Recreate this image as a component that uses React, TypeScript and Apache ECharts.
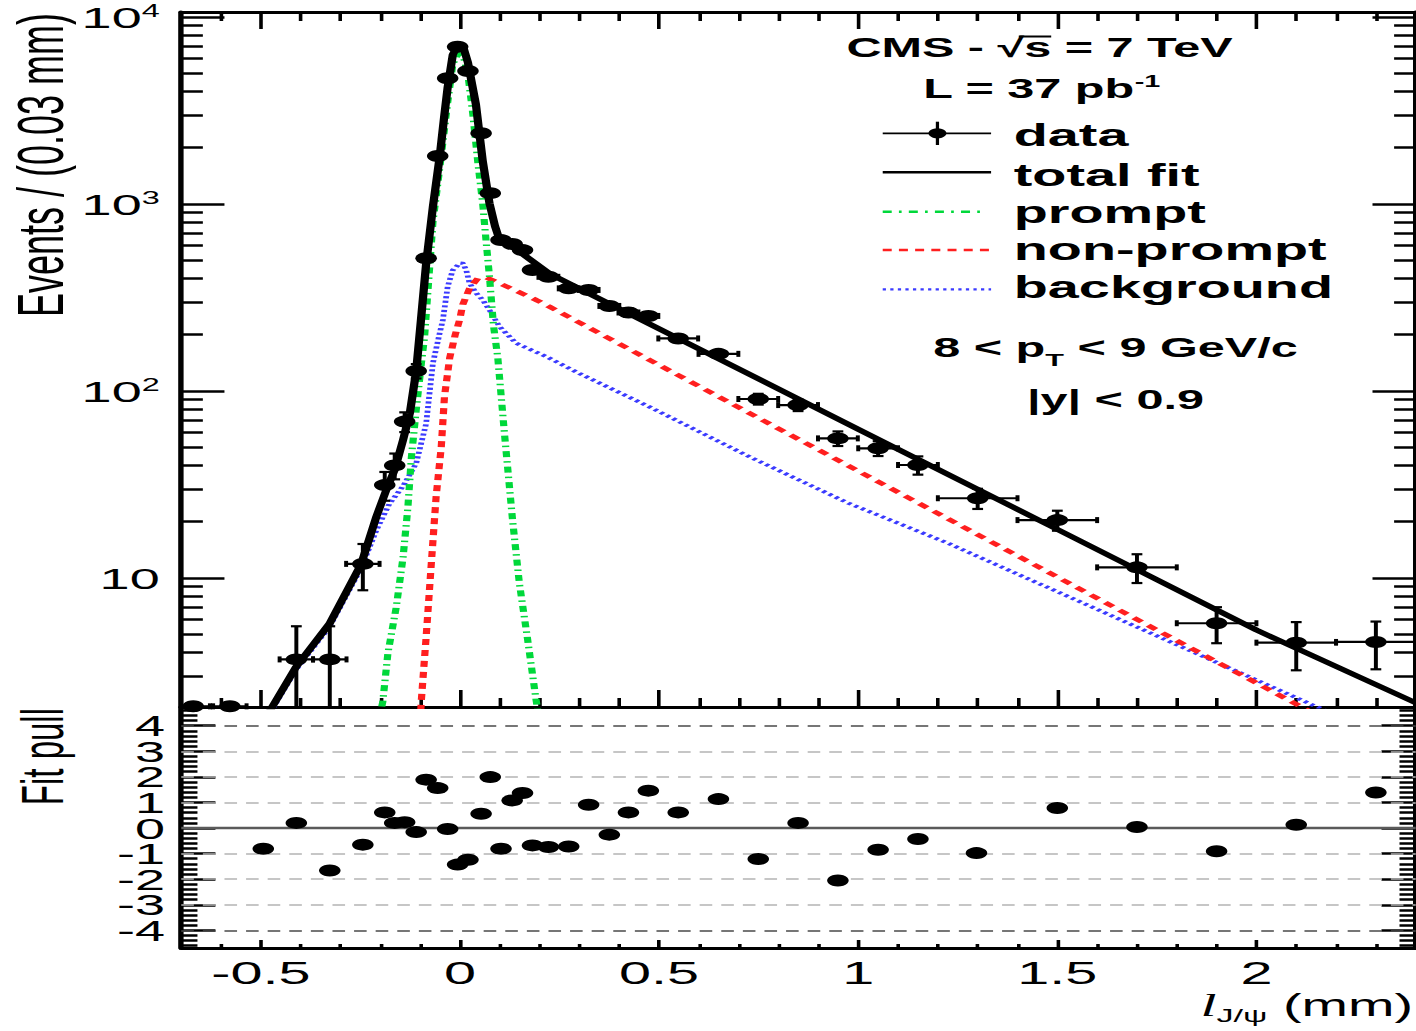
import React, { useEffect, useRef } from "react";
import * as echarts from "echarts";

// The figure is laid out in a narrow frame and widened horizontally.
const STRETCH_X = 1.8;
const FRAME_W = 788;
const FRAME_H = 1031;

const SANS = '"Liberation Sans", Arial, Helvetica, sans-serif';
const SERIF = '"Liberation Serif", "Times New Roman", serif';

const GREEN = "#00d83a";
const RED = "#ff1f1f";
const BLUE = "#3b3bff";

// ---- binned data: bin centre (mm), events / (0.03 mm), stat. error, half bin width ----
const binCenters = [
  -0.67, -0.578, -0.411, -0.327, -0.244,
  -0.189, -0.164, -0.139, -0.11, -0.085, -0.056, -0.031, -0.006, 0.02, 0.053, 0.076, 0.103, 0.131, 0.157, 0.182,
  0.222, 0.273, 0.323, 0.375, 0.423, 0.473,
  0.548, 0.649, 0.749, 0.849, 0.949, 1.05, 1.15,
  1.3, 1.5, 1.7, 1.9, 2.1, 2.3,
];
const eventCounts = [
  2.06, 2.06, 3.67, 3.67, 11.9,
  31.4, 40, 68.6, 128, 513, 1807, 4700, 6935, 5140, 2390, 1143, 641, 611, 567, 444,
  408, 354, 347, 285, 263, 252,
  191, 158, 90.6, 84.1, 55.8, 49.4, 40.2,
  26.7, 20.4, 11.4, 5.73, 4.51, 4.55,
];
const eventErrors = [
  0, 0, 1.85, 1.85, 3.3,
  5.5, 6.3, 8.3, 11.3, 22, 40, 65, 80, 70, 47, 33, 25, 24, 23, 20,
  16, 15, 15, 13, 13, 12,
  8, 7, 6, 6, 5, 4.5, 4.5,
  3.3, 2.5, 2, 1.25, 1.3, 1.3,
];
const binHalfWidths = [
  0.042, 0.042, 0.042, 0.042, 0.042,
  0.0125, 0.0125, 0.0125, 0.0125, 0.0125, 0.0125, 0.0125, 0.0125, 0.0125, 0.0125, 0.0125, 0.0125, 0.0125, 0.0125, 0.0125,
  0.025, 0.025, 0.025, 0.025, 0.025, 0.025,
  0.05, 0.05, 0.05, 0.05, 0.05, 0.05, 0.05,
  0.1, 0.1, 0.1, 0.1, 0.1, 0.1,
];

// ---- fit pulls ----
const pullCenters = [
  -0.494, -0.411, -0.327, -0.244, -0.189, -0.164, -0.139, -0.11, -0.085, -0.056, -0.031, -0.006, 0.02,
  0.053, 0.076, 0.103, 0.131, 0.157, 0.182, 0.222, 0.273, 0.323, 0.375, 0.423, 0.473, 0.548, 0.649,
  0.749, 0.849, 0.949, 1.05, 1.15, 1.297, 1.5, 1.7, 1.9, 2.1, 2.3,
];
const pullValues = [
  -0.81, 0.2, -1.66, -0.65, 0.61, 0.2, 0.23, -0.16, 1.89, 1.56, -0.04, -1.43, -1.24,
  0.56, 1.99, -0.81, 1.08, 1.37, -0.68, -0.74, -0.72, 0.91, -0.26, 0.61, 1.46, 0.61, 1.13,
  -1.21, 0.2, -2.05, -0.85, -0.43, -0.98, 0.78, 0.04, -0.91, 0.13, 1.39,
];

// ---- fit curves: [l (mm), events / (0.03 mm)] ----
const totalFit = [
  [-0.5, 1.6], [-0.473, 2.02], [-0.411, 3.36], [-0.327, 5.73], [-0.248, 11.9], [-0.21, 21.3],
  [-0.185, 29.6], [-0.164, 37.9], [-0.143, 54.7], [-0.126, 76], [-0.11, 128], [-0.098, 240],
  [-0.085, 480], [-0.068, 968], [-0.051, 1790], [-0.04, 2900], [-0.031, 4200], [-0.018, 6300],
  [-0.006, 7050], [0.007, 7050], [0.02, 5700], [0.04, 3400], [0.057, 1700], [0.074, 1010],
  [0.088, 760], [0.097, 665], [0.112, 628], [0.15, 555], [0.224, 425], [1.0, 62.5],
  [1.5, 18.2], [2.0, 5.27], [2.4, 2.15],
];
const promptFit = [
  [-0.205, 1.7], [-0.194, 2.17], [-0.181, 3.97], [-0.16, 7.0], [-0.143, 12.9], [-0.131, 23.7],
  [-0.122, 44.4], [-0.11, 79], [-0.097, 141], [-0.089, 195], [-0.068, 800], [-0.051, 1550],
  [-0.031, 3480], [-0.018, 5600], [-0.005, 6350], [0.008, 6200], [0.0195, 5000], [0.032, 3055],
  [0.045, 1652], [0.057, 1008], [0.066, 617], [0.074, 409], [0.084, 225], [0.095, 150],
  [0.112, 58], [0.132, 20.4], [0.149, 9.4], [0.17, 4.66], [0.191, 2.23], [0.2, 1.7],
];
const nonPromptFit = [
  [-0.1, 1.7], [-0.097, 2.23], [-0.085, 4.85], [-0.072, 12], [-0.06, 27.2], [-0.047, 50.4],
  [-0.039, 93.3], [-0.026, 150], [-0.012, 200], [-0.001, 240], [0.007, 290], [0.024, 354],
  [0.045, 401], [0.065, 405], [0.091, 384], [0.191, 307], [0.224, 283], [2.112, 2.05], [2.2, 1.63],
];
const backgroundFit = [
  [-0.5, 1.55], [-0.473, 1.96], [-0.411, 3.25], [-0.327, 5.5], [-0.248, 11.3], [-0.21, 18],
  [-0.177, 25], [-0.143, 31], [-0.11, 41], [-0.085, 67], [-0.068, 141], [-0.051, 204],
  [-0.043, 240], [-0.031, 361], [-0.018, 444], [0.0, 483], [0.007, 482], [0.0155, 444],
  [0.024, 377], [0.041, 333], [0.057, 307], [0.074, 271], [0.099, 221], [0.141, 180],
  [0.216, 153], [0.3, 124], [0.475, 82.4], [0.726, 44.6], [0.976, 25.1], [1.227, 15.3],
  [2.142, 2.09], [2.2, 1.85],
];

// ---- axis ranges and ticks ----
const X_MIN = -0.7;
const X_MAX = 2.4;
const LOG_MIN = 0.3102;
const LOG_MAX = 4.0267;
const PULL_MIN = -4.69;
const PULL_MAX = 4.73;
const xMajorTicks = [-0.5, 0, 0.5, 1, 1.5, 2];
const xMinorTicks = [
  -0.6, -0.4, -0.3, -0.2, -0.1, 0.1, 0.2, 0.3, 0.4, 0.6, 0.7, 0.8, 0.9,
  1.1, 1.2, 1.3, 1.4, 1.6, 1.7, 1.8, 1.9, 2.1, 2.2, 2.3,
];
const decadeTicks = [1, 2, 3, 4];
const pullMajorTicks = [-4, -3, -2, -1, 0, 1, 2, 3, 4];
// pull labels are split over two stacked axes so that every one of them is drawn
const pullEvenLabels = [-4, -2, 0, 2, 4];
const pullOddLabels = [-3, -1, 1, 3];

const lg = (v: number) => Math.log10(v);
const toLog = (pts: number[][]) => pts.map(([x, v]) => [x, lg(v)]);

function xAxisDef(gridIndex: number, position: string, ticks: number[], len: number, showLine: boolean, labels = false) {
  return {
    type: "value",
    gridIndex,
    position,
    min: X_MIN,
    max: X_MAX,
    axisLine: { show: showLine, onZero: false, lineStyle: { color: "#000", width: 3 } },
    axisTick: { show: true, inside: true, length: len, customValues: ticks, lineStyle: { color: "#000", width: 2 } },
    axisLabel: labels
      ? {
          show: true,
          customValues: xMajorTicks,
          margin: 9,
          hideOverlap: false,
          showMinLabel: true,
          showMaxLabel: true,
          color: "#000",
          fontFamily: SANS,
          fontSize: 32,
        }
      : { show: false },
    splitLine: { show: false },
  };
}

function yAxisDef(
  gridIndex: number,
  position: string,
  min: number,
  max: number,
  ticks: number[],
  len: number,
  showLine: boolean,
  label: any = null
) {
  return {
    type: "value",
    gridIndex,
    position,
    min,
    max,
    axisLine: { show: showLine, onZero: false, lineStyle: { color: "#000", width: 3 } },
    axisTick: { show: true, inside: true, length: len, customValues: ticks, lineStyle: { color: "#000", width: 2.5 } },
    axisLabel: label ? label : { show: false },
    splitLine: { show: false },
  };
}

function pullLabel(values: number[]) {
  return {
    show: true,
    customValues: values,
    margin: 9,
    hideOverlap: false,
    showMinLabel: true,
    showMaxLabel: true,
    color: "#000",
    fontFamily: SANS,
    fontSize: 30,
    lineHeight: 24,
  };
}

function buildOption() {
  const logMinor: number[] = [];
  for (const d of [0, 1, 2, 3]) {
    for (const k of [2, 3, 4, 5, 6, 7, 8, 9]) {
      const t = lg(k * Math.pow(10, d));
      if (t > LOG_MIN && t < LOG_MAX) logMinor.push(t);
    }
  }
  const pullMinor: number[] = [];
  for (let i = -23; i <= 23; i++) if (i % 5 !== 0) pullMinor.push(i / 5);

  const errData = binCenters.map((x, i) => {
    const y = eventCounts[i];
    const e = eventErrors[i];
    const h = binHalfWidths[i];
    return [x, lg(y), lg(y + e), lg(Math.max(y - e, 1e-3)), x - h, x + h];
  });
  const markerData = binCenters.map((x, i) => [x, lg(eventCounts[i])]);
  const pullData = pullCenters.map((x, i) => [x, pullValues[i]]);

  const decadeLabel = {
    show: true,
    customValues: decadeTicks,
    margin: 12,
    hideOverlap: false,
    showMinLabel: true,
    showMaxLabel: true,
    formatter: (v: number) => {
      const e = Math.round(v);
      return e === 1 ? "{b|10}" : `{b|10}{s|${e}}`;
    },
    rich: {
      b: { fontSize: 30, lineHeight: 30, fontFamily: SANS, color: "#000" },
      s: { fontSize: 18, lineHeight: 18, verticalAlign: "top", fontFamily: SANS, color: "#000" },
    },
  };

  const legendRows = [
    { label: "data", ty: 135.3 },
    { label: "total fit", ty: 175 },
    { label: "prompt", ty: 212.5 },
    { label: "non-prompt", ty: 249.2 },
    { label: "background", ty: 287.5 },
  ];
  const LX1 = 490.4;
  const LX2 = 550.6;
  const legendGraphics: any[] = [
    { type: "line", shape: { x1: LX1, y1: 133.3, x2: LX2, y2: 133.3 }, style: { stroke: "#000", lineWidth: 1.8 } },
    { type: "line", shape: { x1: 520.8, y1: 121.7, x2: 520.8, y2: 145 }, style: { stroke: "#000", lineWidth: 1.8 } },
    { type: "circle", shape: { cx: 520.8, cy: 133.3, r: 5 }, style: { fill: "#000" } },
    { type: "line", shape: { x1: LX1, y1: 172.3, x2: LX2, y2: 172.3 }, style: { stroke: "#000", lineWidth: 2.6 } },
    { type: "line", shape: { x1: LX1, y1: 211.7, x2: 545, y2: 211.7 }, style: { stroke: GREEN, lineWidth: 2.6, lineDash: [5, 4, 1.5, 4] } },
    { type: "line", shape: { x1: LX1, y1: 250, x2: LX2, y2: 250 }, style: { stroke: RED, lineWidth: 2.6, lineDash: [5, 4] } },
    { type: "line", shape: { x1: LX1, y1: 289.3, x2: LX2, y2: 289.3 }, style: { stroke: BLUE, lineWidth: 2.2, lineDash: [1.8, 2.4] } },
    ...legendRows.map((r) => ({
      type: "text",
      x: 563.2,
      y: r.ty,
      style: {
        text: r.label,
        fill: "#000",
        fontFamily: SANS,
        fontWeight: "bold",
        fontSize: 31,
        align: "left",
        verticalAlign: "middle",
      },
    })),
  ];

  const textGraphics: any[] = [
    {
      type: "text",
      x: 577.5,
      y: 47.5,
      style: { text: "CMS - √s = 7 TeV", fill: "#000", fontFamily: SANS, fontWeight: "bold", fontSize: 27, align: "center", verticalAlign: "middle" },
    },
    // bar over the "s" of √s
    { type: "line", shape: { x1: 566, y1: 36.5, x2: 584, y2: 36.5 }, style: { stroke: "#000", lineWidth: 2 } },
    {
      type: "text",
      x: 578.6,
      y: 88.3,
      style: {
        text: "{t|L = 37 pb}{s|-1}",
        align: "center",
        verticalAlign: "middle",
        rich: {
          t: { fontSize: 27, lineHeight: 30, fontWeight: "bold", fontFamily: SANS, fill: "#000", color: "#000" },
          s: { fontSize: 16, lineHeight: 16, verticalAlign: "top", fontWeight: "bold", fontFamily: SANS, fill: "#000", color: "#000" },
        },
      },
    },
    {
      type: "text",
      x: 619.7,
      y: 347.5,
      style: {
        text: "{t|8 < p}{s|T}{t| < 9 GeV/c}",
        align: "center",
        verticalAlign: "middle",
        rich: {
          t: { fontSize: 27, lineHeight: 42, fontWeight: "bold", fontFamily: SANS, fill: "#000", color: "#000" },
          s: { fontSize: 17, lineHeight: 17, verticalAlign: "bottom", fontWeight: "bold", fontFamily: SANS, fill: "#000", color: "#000" },
        },
      },
    },
    {
      type: "text",
      x: 619.7,
      y: 399,
      style: { text: "|y| < 0.9", fill: "#000", fontFamily: SANS, fontWeight: "bold", fontSize: 27, align: "center", verticalAlign: "middle" },
    },
    {
      type: "text",
      x: 22.5,
      y: 13,
      rotation: Math.PI / 2,
      style: { text: "Events / (0.03 mm)", fill: "#000", fontFamily: SANS, fontSize: 36, align: "right", verticalAlign: "middle" },
    },
    {
      type: "text",
      x: 23.5,
      y: 708,
      rotation: Math.PI / 2,
      style: { text: "Fit pull", fill: "#000", fontFamily: SANS, fontSize: 33, align: "right", verticalAlign: "middle" },
    },
    {
      type: "text",
      x: 785,
      y: 1005,
      style: {
        text: "{l|l}{s|J/ψ}{t| (mm)}",
        align: "right",
        verticalAlign: "middle",
        rich: {
          l: { fontSize: 32, lineHeight: 39, fontStyle: "italic", fontFamily: SERIF, fill: "#000", color: "#000" },
          s: { fontSize: 19, lineHeight: 19, verticalAlign: "bottom", fontFamily: SANS, fill: "#000", color: "#000" },
          t: { fontSize: 31, lineHeight: 39, fontFamily: SANS, fill: "#000", color: "#000" },
        },
      },
    },
  ];

  const errorBarSeries = {
    type: "custom",
    name: "data errors",
    xAxisIndex: 0,
    yAxisIndex: 0,
    z: 4,
    silent: true,
    data: errData,
    renderItem: (params: any, api: any) => {
      const cs = params.coordSys;
      const top = cs.y;
      const bottom = cs.y + cs.height;
      const left = cs.x;
      const right = cs.x + cs.width;
      const x = api.value(0);
      const y = api.value(1);
      const c = api.coord([x, y]);
      if (c[1] > bottom + 0.5 || c[1] < top - 0.5) return null;
      const hi = api.coord([x, api.value(2)])[1];
      const lo = api.coord([x, api.value(3)])[1];
      const xl = api.coord([api.value(4), y])[0];
      const xr = api.coord([api.value(5), y])[0];
      const clampY = (v: number) => Math.max(top, Math.min(bottom, v));
      const clampX = (v: number) => Math.max(left, Math.min(right, v));
      const style = { stroke: "#000", lineWidth: 2.2, fill: null };
      const children: any[] = [];
      if (lo - hi > 0.5) {
        children.push({ type: "line", shape: { x1: c[0], y1: clampY(hi), x2: c[0], y2: clampY(lo) }, style });
        if (hi >= top) children.push({ type: "line", shape: { x1: c[0] - 3, y1: hi, x2: c[0] + 3, y2: hi }, style });
        if (lo <= bottom) children.push({ type: "line", shape: { x1: c[0] - 3, y1: lo, x2: c[0] + 3, y2: lo }, style });
      }
      children.push({ type: "line", shape: { x1: clampX(xl), y1: c[1], x2: clampX(xr), y2: c[1] }, style });
      if (xl >= left) children.push({ type: "line", shape: { x1: xl, y1: c[1] - 3, x2: xl, y2: c[1] + 3 }, style });
      if (xr <= right) children.push({ type: "line", shape: { x1: xr, y1: c[1] - 3, x2: xr, y2: c[1] + 3 }, style });
      return { type: "group", children };
    },
  };

  const curveSeries = (name: string, pts: number[][], color: string, width: number, dash: any, z: number) => ({
    type: "line",
    name,
    xAxisIndex: 0,
    yAxisIndex: 0,
    data: toLog(pts),
    showSymbol: false,
    symbol: "none",
    clip: true,
    silent: true,
    z,
    lineStyle: { color, width, type: dash, cap: "butt", join: "round", opacity: 1 },
  });

  return {
    animation: false,
    backgroundColor: "#fff",
    textStyle: { fontFamily: SANS },
    grid: [
      { left: 100.7, right: 1.5, top: 12, height: 695, containLabel: false, outerBoundsMode: "none" },
      { left: 100.7, right: 1.5, top: 707, height: 241, containLabel: false, outerBoundsMode: "none" },
    ],
    xAxis: [
      xAxisDef(0, "bottom", xMajorTicks, 17, true),
      xAxisDef(0, "bottom", xMinorTicks, 9, false),
      xAxisDef(0, "top", xMajorTicks, 17, true),
      xAxisDef(0, "top", xMinorTicks, 9, false),
      xAxisDef(1, "bottom", xMajorTicks, 8, true, true),
      xAxisDef(1, "bottom", xMinorTicks, 4, false),
    ],
    yAxis: [
      yAxisDef(0, "left", LOG_MIN, LOG_MAX, decadeTicks, 24, true, decadeLabel),
      yAxisDef(0, "left", LOG_MIN, LOG_MAX, logMinor, 12, false),
      yAxisDef(0, "right", LOG_MIN, LOG_MAX, decadeTicks, 24, true),
      yAxisDef(0, "right", LOG_MIN, LOG_MAX, logMinor, 12, false),
      yAxisDef(1, "left", PULL_MIN, PULL_MAX, pullMajorTicks, 19, true, pullLabel(pullEvenLabels)),
      yAxisDef(1, "left", PULL_MIN, PULL_MAX, pullMinor, 9, false, pullLabel(pullOddLabels)),
      yAxisDef(1, "right", PULL_MIN, PULL_MAX, pullMajorTicks, 19, true),
      yAxisDef(1, "right", PULL_MIN, PULL_MAX, pullMinor, 9, false),
    ],
    series: [
      curveSeries("background", backgroundFit, BLUE, 3.2, [2.2, 2.4], 2),
      curveSeries("non-prompt", nonPromptFit, RED, 4, [6, 5], 2),
      curveSeries("prompt", promptFit, GREEN, 4, [6, 4, 1.5, 4], 2),
      curveSeries("total fit", totalFit, "#000", 4.6, "solid", 3),
      errorBarSeries,
      {
        type: "scatter",
        name: "data",
        xAxisIndex: 0,
        yAxisIndex: 0,
        data: markerData,
        symbol: "circle",
        symbolSize: 12,
        itemStyle: { color: "#000", opacity: 1 },
        silent: true,
        z: 5,
      },
      {
        type: "scatter",
        name: "pull reference lines",
        xAxisIndex: 4,
        yAxisIndex: 4,
        data: [],
        silent: true,
        z: 1,
        markLine: {
          silent: true,
          symbol: ["none", "none"],
          label: { show: false },
          animation: false,
          data: [
            ...[-3, -2, -1, 1, 2, 3].map((v) => ({ yAxis: v, lineStyle: { color: "#b4b4b4", width: 1.6, type: [7, 5] } })),
            ...[-4, 4].map((v) => ({ yAxis: v, lineStyle: { color: "#4a4a4a", width: 1.6, type: [7, 5] } })),
            { yAxis: 0, lineStyle: { color: "#5a5a5a", width: 2.4, type: "solid" } },
          ],
        },
      },
      {
        type: "scatter",
        name: "pull",
        xAxisIndex: 4,
        yAxisIndex: 4,
        data: pullData,
        symbol: "circle",
        symbolSize: 12,
        itemStyle: { color: "#000", opacity: 1 },
        silent: true,
        z: 5,
      },
    ],
    graphic: { elements: [...legendGraphics, ...textGraphics] },
  };
}

export default function App() {
  const ref = useRef<HTMLDivElement>(null);
  useEffect(() => {
    if (!ref.current) return;
    const chart = echarts.init(ref.current, null, { renderer: "svg" });
    chart.setOption(buildOption() as any);
    return () => chart.dispose();
  }, []);
  return (
    <div
      style={{
        position: "fixed",
        left: 0,
        top: 0,
        width: 1416,
        height: 1031,
        overflow: "hidden",
        background: "#fff",
      }}
    >
      <div
        ref={ref}
        style={{
          width: FRAME_W,
          height: FRAME_H,
          transform: `scaleX(${STRETCH_X})`,
          transformOrigin: "0 0",
        }}
      />
    </div>
  );
}
